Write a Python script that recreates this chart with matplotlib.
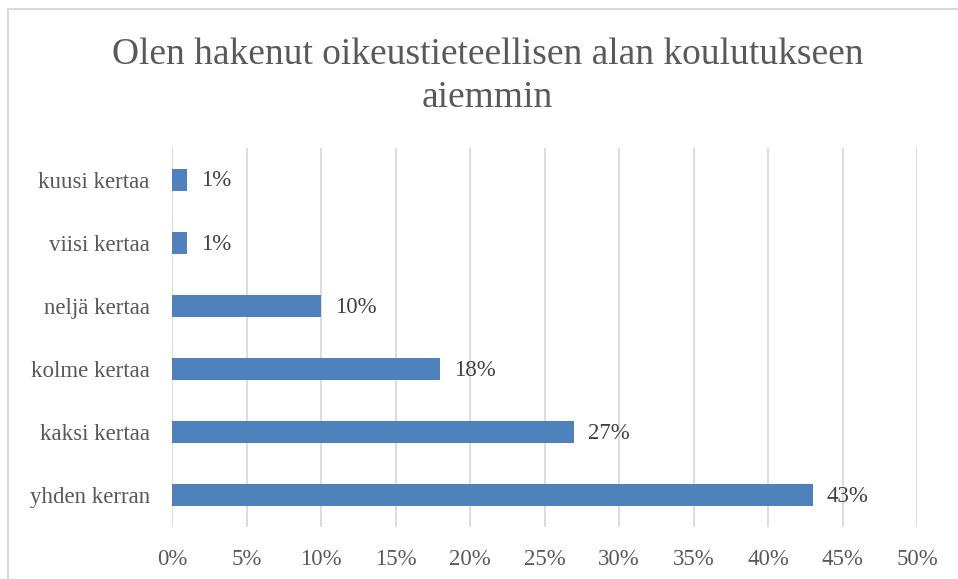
import matplotlib.pyplot as plt
from matplotlib.patches import Rectangle
from matplotlib.ticker import FuncFormatter, MultipleLocator

categories = ["yhden kerran", "kaksi kertaa", "kolme kertaa", "neljä kertaa", "viisi kertaa", "kuusi kertaa"]
shares = [43, 27, 18, 10, 1, 1]
labels = ["43%", "27%", "18%", "10%", "1%", "1%"]

TITLE = "Olen hakenut oikeustieteellisen alan koulutukseen\naiemmin"
BAR = "#4F81BD"
GRID = "#D9D9D9"

plt.rcParams["font.family"] = ["Liberation Serif", "DejaVu Serif"]

fig = plt.figure(figsize=(9.58, 5.79), dpi=100)
ax = fig.add_axes([172 / 958, 1 - 527 / 579, (917 - 172) / 958, (527 - 148) / 579])

# chart border (only left/top visible in the crop)
fig.patches.append(Rectangle((8 / 958, -0.05), 1.0, 1 - 9 / 579 + 0.05,
                             transform=fig.transFigure, fill=False,
                             edgecolor=GRID, linewidth=1.5))

y = range(len(categories))
ax.barh(y, shares, height=0.35, color=BAR, zorder=3)
for yi, v, lab in zip(y, shares, labels):
    ax.annotate(lab, (v, yi), xytext=(10, -1), textcoords="offset points",
                va="center", ha="left", fontsize=16.5, color="#404040")

ax.set_xlim(0, 50)
ax.set_ylim(-0.5, len(categories) - 0.5)
ax.xaxis.set_major_locator(MultipleLocator(5))
ax.xaxis.set_major_formatter(FuncFormatter(lambda v, _: f"{v:.0f}%"))
ax.set_yticks(list(y))
ax.set_yticklabels(categories)
ax.tick_params(axis="both", length=0, labelsize=16.5, labelcolor="#595959")
ax.tick_params(axis="x", pad=16)
ax.tick_params(axis="y", pad=16)
ax.grid(axis="x", color=GRID, linewidth=1.3, zorder=0)
for s in ax.spines.values():
    s.set_visible(False)

fig.text(0.509, 1 - 38 / 579, TITLE, ha="center", va="top", fontsize=27,
         color="#595959", linespacing=1.3)

fig.savefig("out.png", dpi=100)
